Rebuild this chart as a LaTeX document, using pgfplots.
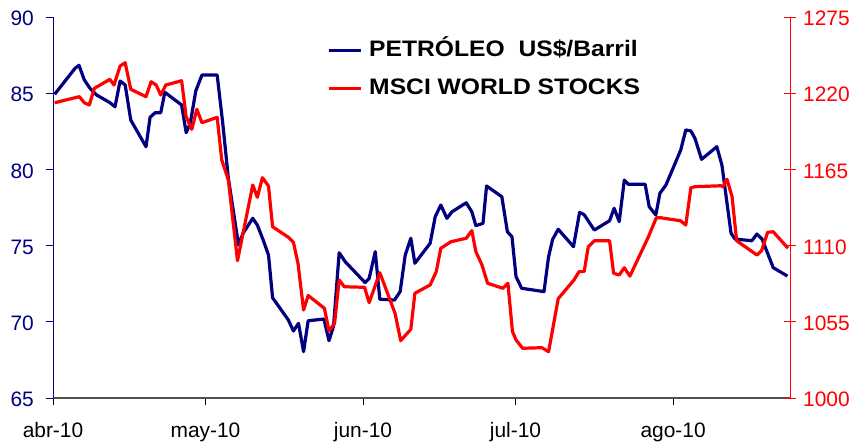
\documentclass[border=0pt]{standalone}
\usepackage{pgfplots}
\pgfplotsset{compat=1.18}
\usepackage{fontspec}
\setmainfont{Liberation Sans}
\definecolor{navyb}{RGB}{0,0,128}
\definecolor{redl}{RGB}{255,0,0}
\definecolor{axgray}{RGB}{80,80,80}
\newcommand{\wide}[1]{\scalebox{1.1}[1]{#1}}
\begin{document}
\begin{tikzpicture}
\useasboundingbox (-53bp,-44bp) rectangle (805bp,398bp);
\pgfplotsset{
  base/.style={
    scale only axis, width=737bp, height=381bp,
    at={(0,0)}, anchor=south west,
    xmin=0, xmax=145,
    /pgf/number format/assume math mode=true,
    /pgf/number format/.cd, fixed, precision=0, use period, 1000 sep={},
    /pgfplots/.cd,
  }
}
\begin{axis}[base,
  axis y line*=left, axis x line*=bottom,
  y axis line style={navyb, line width=0.9bp},
  x axis line style={axgray, line width=1.3bp},
  ymin=65, ymax=90, ytick={65,70,75,80,85,90},
  xtick={0,30,61,91,122},
  xticklabels={abr-10,may-10,jun-10,jul-10,ago-10},
  tick align=outside, major tick length=7bp,
  ytick style={navyb, line width=0.8bp},
  xtick style={black, line width=0.8bp},
  yticklabel style={navyb, font=\fontsize{21}{25}\selectfont, inner sep=2bp, xshift=-10bp, yshift=-1.5bp},
  xticklabel style={black, font=\fontsize{21}{25}\selectfont, yshift=-14bp},
]
\addplot[navyb, line width=3.2bp, line join=round] coordinates {
(0.33,84.93) (4.33,86.63) (5.12,86.83) (6.16,85.87) (7.28,85.32) (8.6,84.88)
(11.2,84.38) (12.2,84.11) (13.2,85.8) (14.2,85.54) (15.3,83.24) (18.3,81.49)
(19.1,83.42) (20.1,83.72) (21.2,83.72) (22.0,85.06) (25.3,84.23) (26.2,82.41)
(27.0,83.02) (28.1,85.16) (29.3,86.19) (32.3,86.19) (33.4,83.02) (34.5,79.42)
(36.5,75.04) (37.4,75.81) (39.3,76.79) (40.2,76.35) (41.3,75.41) (42.4,74.38)
(43.2,71.58) (46.3,70.12) (47.3,69.4) (48.3,69.9) (49.3,68.04) (50.2,70.07)
(53.3,70.18) (54.3,68.76) (55.2,69.72) (56.3,74.53) (57.5,73.94) (61.4,72.57)
(62.2,72.85) (63.4,74.6) (64.3,71.48) (67.2,71.43) (68.3,71.98) (69.3,74.38)
(70.4,75.48) (71.2,73.84) (74.2,75.15) (75.2,76.9) (76.3,77.66) (77.5,76.79)
(78.5,77.22) (81.3,77.81) (82.4,77.22) (83.2,76.31) (84.6,76.46) (85.3,78.91)
(88.3,78.21) (89.4,75.91) (90.3,75.58) (91.1,72.96) (92.2,72.2) (96.6,71.98)
(97.5,74.27) (98.3,75.41) (99.4,76.07) (102.4,74.93) (103.6,77.18) (104.5,77.03)
(106.5,76.02) (109.5,76.63) (110.4,77.45) (111.4,76.57) (112.4,79.3) (113.2,79.02)
(116.5,79.02) (117.3,77.55) (118.6,77.01) (119.4,78.43) (120.6,78.98) (123.5,81.27)
(124.5,82.59) (125.5,82.52) (126.3,82.04) (127.6,80.66) (130.6,81.49) (131.6,80.29)
(133.4,75.81) (134.2,75.43) (137.5,75.32) (138.5,75.76) (139.5,75.43) (141.7,73.55)
(144.5,73.0)
};
\end{axis}
\begin{axis}[base,
  axis y line*=right, axis x line=none,
  y axis line style={redl, line width=0.9bp},
  ymin=1000, ymax=1275, ytick={1000,1055,1110,1165,1220,1275},
  tick align=center, major tick length=12bp,
  ytick style={redl, line width=0.8bp},
  yticklabel style={redl, font=\fontsize{21}{25}\selectfont, inner sep=2bp, xshift=5bp, yshift=-1.5bp},
  legend cell align=left,
  legend style={draw=none, fill=none, at={(0.3718,0.9404)}, anchor=north west,
    inner sep=0pt, column sep=7bp, row sep=15.5bp,
    font=\fontsize{22.5}{25}\selectfont\bfseries,
    nodes={inner sep=0pt, text height=17bp, text depth=5bp}},
  legend image code/.code={\draw[#1, line width=3bp] (0bp,0bp) -- (32bp,0bp);},
]
\addlegendimage{navyb}
\addlegendentry{\wide{PETRÓLEO\ \ US\$/Barril}}
\addplot[redl, line width=3.2bp, line join=round] coordinates {
(0.33,1213.1) (5.18,1217.5) (6.16,1213.1) (7.14,1211.5) (8.13,1223.5) (11.2,1230)
(12.0,1225.9) (13.2,1239.6) (14.2,1242) (15.3,1222.8) (18.3,1217.5) (19.3,1228.3)
(20.3,1225.9) (21.2,1218.7) (22.2,1225.9) (25.3,1229) (26.2,1203) (27.3,1193.9)
(28.3,1208.4) (29.3,1198.7) (32.3,1202.6) (33.2,1171.8) (34.5,1157.3) (36.3,1099.1)
(39.3,1153.7) (40.2,1144.9) (41.2,1159) (42.4,1153) (43.2,1123.6) (46.3,1116)
(47.3,1112.4) (48.2,1097.2) (49.3,1063.5) (50.2,1074) (53.4,1064.7) (54.3,1048.4)
(55.4,1053.9) (56.3,1085.2) (57.3,1080.3) (61.3,1079.9) (62.2,1068.8) (64.3,1090.4)
(67.3,1061.1) (68.4,1041.4) (70.4,1049.6) (71.2,1075.6) (74.2,1081.6) (75.4,1091.2)
(76.3,1108.1) (78.3,1112.8) (81.3,1115.3) (82.4,1120.8) (83.2,1105.6) (84.4,1096)
(85.5,1082.8) (88.5,1079.2) (89.5,1082.8) (90.4,1047.9) (91.1,1041.9) (92.4,1035.9)
(96.2,1036.3) (97.5,1033.4) (99.4,1071.7) (102.5,1085.2) (103.5,1091.2) (104.5,1091.2)
(105.3,1109) (106.5,1113.5) (109.5,1113.5) (110.3,1090) (111.4,1088.8) (112.4,1094)
(113.5,1088) (117.1,1116) (118.7,1130.1) (119.6,1130.1) (121.1,1129.2) (123.4,1128)
(124.5,1124.9) (125.5,1151.8) (126.3,1152.5) (131.4,1153.2) (131.8,1152.5) (132.6,1157.9)
(133.6,1145.3) (134.5,1113.5) (138.5,1103.2) (139.4,1106.3) (140.6,1119.6) (141.7,1120)
(144.6,1108.1)
};
\addlegendentry{\wide{MSCI WORLD STOCKS}}
\end{axis}
\end{tikzpicture}
\end{document}
